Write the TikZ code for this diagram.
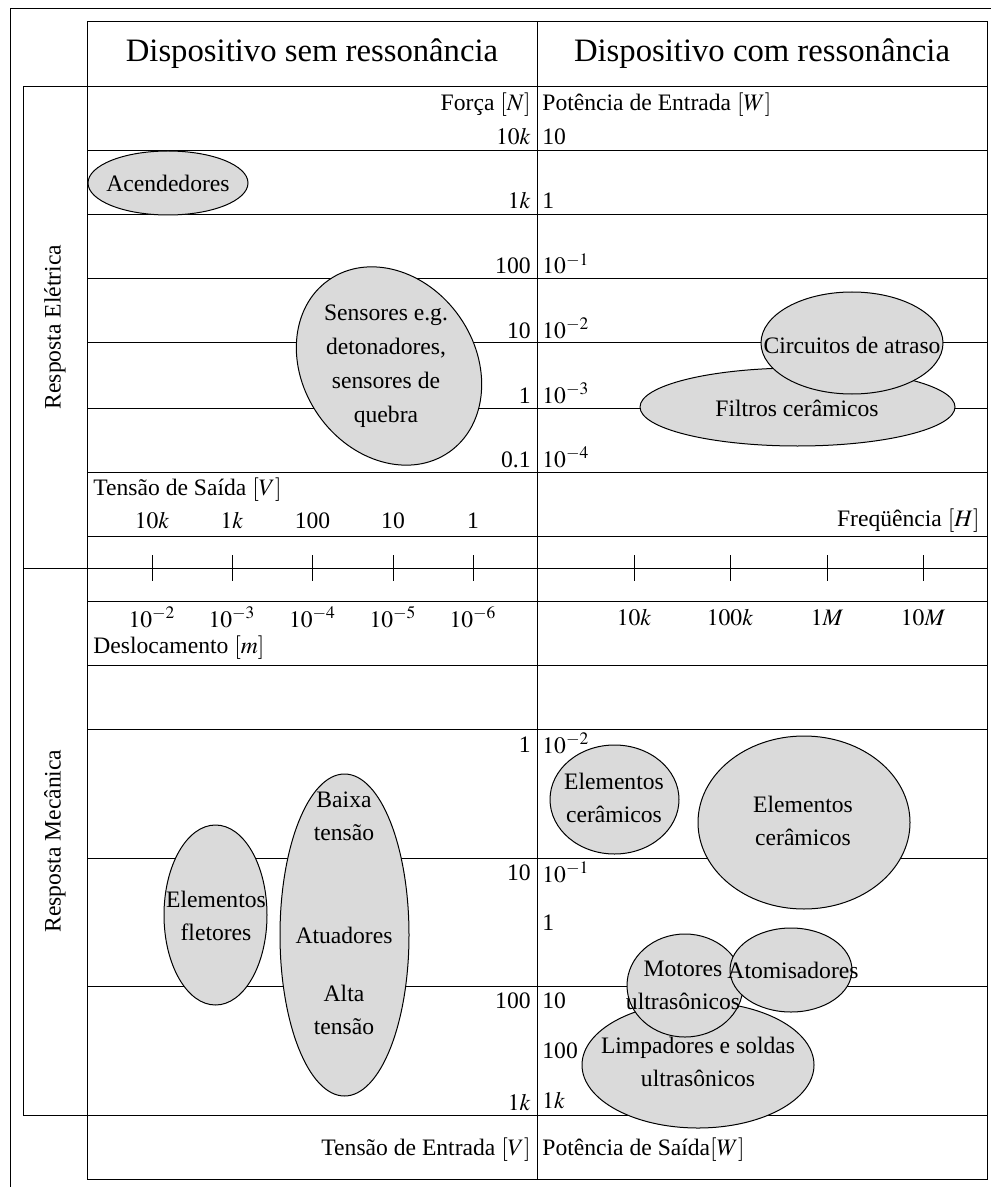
\documentclass[tikz,border=0pt]{standalone}
\usepackage{mathptmx}
\usepackage{fontspec}
\setmainfont{Liberation Serif}
\usepackage{tikz}
\usepackage{xcolor}

\definecolor{bubblegray}{gray}{0.855}
\newcommand{\txtsize}{\fontsize{11.8}{16.5}\selectfont}
\newcommand{\headsize}{\fontsize{16.35}{20}\selectfont}

\tikzset{
    rule/.style={line width=0.5pt},
    bubble/.style={draw=black, fill=bubblegray, line width=0.5pt},
    val/.style={inner sep=0pt, font=\txtsize},
    tag/.style={inner sep=0pt, align=center, font=\txtsize},
}

\begin{document}
\begin{tikzpicture}[x=0.5pt, y=-0.5pt]
        \useasboundingbox (0,0) rectangle (991,1187);
        % Sizes
        \pgfmathsetmacro{\xl}{87}
        \pgfmathsetmacro{\xm}{537}
        \pgfmathsetmacro{\xr}{987}
        \pgfmathsetmacro{\ticklen}{13}

        % frame
        \draw[rule] (10,1187) -- (10,9) -- (991,9);
        \draw[rule] (\xl,22) rectangle (\xr,1179);
        \draw[rule] (\xm,22) -- (\xm,1179);
        \draw[rule] (23,87) rectangle (\xr,1115);
        \draw[rule] (23,568) -- (\xr,568);
        \foreach \y in {151,215,279,343,408,472,536,601,665,729,858,986}
            \draw[rule] (\xl,\y) -- (\xr,\y);

        % ticks
        \foreach \x in {152,232,312.5,393,473,634,730,827,923}
            \draw[rule] (\x,568-\ticklen) -- (\x,568+\ticklen);

        % bubbles
        \draw[bubble] (168,183) ellipse [x radius=80, y radius=32];
        \draw[bubble, shift={(389,366)}, rotate=-55] (0,0) ellipse [x radius=105, y radius=86];
        \draw[bubble] (797.5,407) ellipse [x radius=157.5, y radius=39];
        \draw[bubble] (852,343) ellipse [x radius=91, y radius=51];
        \draw[bubble] (215.5,915) ellipse [x radius=51.5, y radius=90];
        \draw[bubble] (344.5,935) ellipse [x radius=64.5, y radius=161];
        \draw[bubble] (614.5,799.5) ellipse [x radius=64.5, y radius=54.5];
        \draw[bubble] (804,822.5) ellipse [x radius=106, y radius=86.5];
        \draw[bubble] (698,1065) ellipse [x radius=116, y radius=63];
        \draw[bubble] (685,985.5) ellipse [x radius=58, y radius=51.5];
        \draw[bubble] (791,970) ellipse [x radius=61, y radius=42];

        % headings
        \node[inner sep=0pt, anchor=base, font=\headsize] (semres) at (312,62) {Dispositivo sem ressonância};
        \node[inner sep=0pt, anchor=base, font=\headsize] (comres) at (762,62) {Dispositivo com ressonância};
        \node[val, rotate=90] (eletrica) at (55,327) {Resposta Elétrica};
        \node[val, rotate=90] (mecanica) at (55,841) {Resposta Mecânica};

        % scale values
        \foreach \t/\y [count=\i] in {{Força $[N]$}/111, $10k$/145, $1k$/209, 100/274, 10/338, 1/403, 0.1/467,
                1/752, 10/880, 100/1008, $1k$/1110, {Tensão de Entrada $[V]$}/1155}
            \node[val, anchor=base east] (lv\i) at (531,\y) {\t};
        \foreach \t/\y [count=\i] in {{Potência de Entrada $[W]$}/111, 10/145, 1/209, $10^{-1}$/274, $10^{-2}$/338,
                $10^{-3}$/403, $10^{-4}$/467, $10^{-2}$/753, $10^{-1}$/882, 1/930, 10/1008, 100/1058, $1k$/1108,
                {Potência de Saída$[W]$}/1155}
            \node[val, anchor=base west] (rv\i) at (542,\y) {\t};

        % axis labels
        \foreach \x/\t [count=\i] in {152/$10k$, 232/$1k$, 312.5/100, 393/10, 473/1}
            \node[val, anchor=base] (volt\i) at (\x,528) {\t};
        \foreach \x/\t [count=\i] in {152/$10^{-2}$, 232/$10^{-3}$, 312.5/$10^{-4}$, 393/$10^{-5}$, 473/$10^{-6}$}
            \node[val, anchor=base] (desl\i) at (\x,627) {\t};
        \foreach \x/\t [count=\i] in {634/$10k$, 730/$100k$, 827/$1M$, 923/$10M$}
            \node[val, anchor=base] (freq\i) at (\x,625) {\t};
        \node[val, anchor=base west] (saida) at (93,495) {Tensão de Saída $[V]$};
        \node[val, anchor=base west] (deslocamento) at (93,653) {Deslocamento $[m]$};
        \node[val, anchor=base east] (frequencia) at (980,526) {Freqüência $[H]$};

        % labels
        \node[tag] (acend) at (168,183) {Acendedores};
        \node[tag, font=\fontsize{11.8}{17}\selectfont] (sens) at (386,366) {Sensores e.g.\\detonadores,\\sensores de\\quebra};
        \node[tag] (circ) at (852,345) {Circuitos de atraso};
        \node[tag] (filt) at (797,408) {Filtros cerâmicos};
        \node[tag] (flet) at (216,916) {Elementos\\fletores};
        \node[tag] (baixa) at (344,816) {Baixa\\tensão};
        \node[tag] (atua) at (344,935) {Atuadores};
        \node[tag] (alta) at (344,1010) {Alta\\tensão};
        \node[tag] (cerA) at (614,798) {Elementos\\cerâmicos};
        \node[tag] (cerB) at (803,821) {Elementos\\cerâmicos};
        \node[tag] (motor) at (683,985) {Motores\\ultrasônicos};
        \node[tag] (atom) at (793,970) {Atomisadores};
        \node[tag] (limp) at (698,1062) {Limpadores e soldas\\ultrasônicos};
\end{tikzpicture}
\end{document}
